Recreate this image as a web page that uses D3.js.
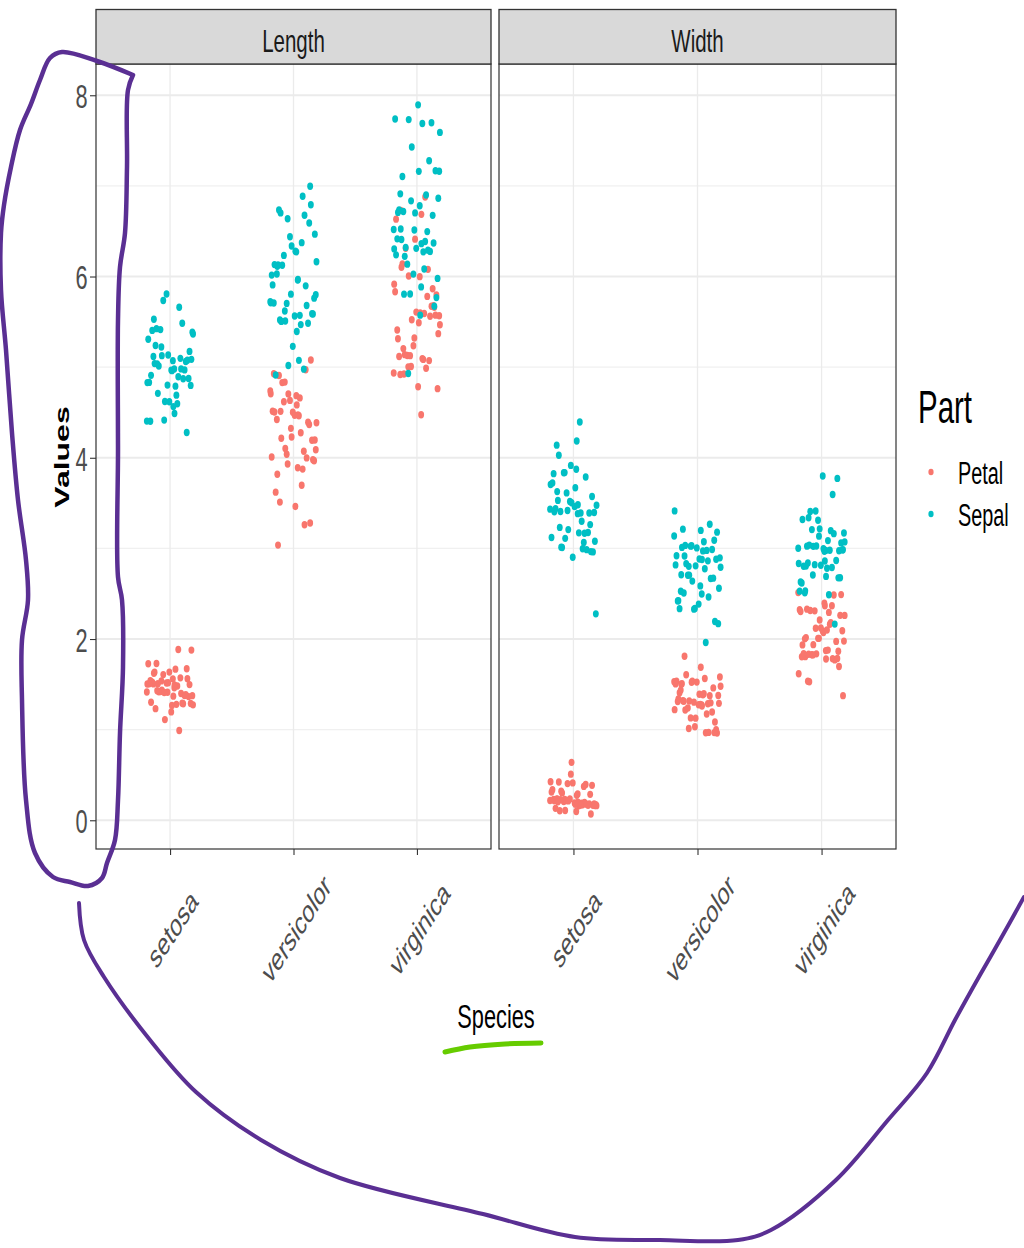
<!DOCTYPE html>
<html>
<head>
<meta charset="utf-8">
<script src="https://cdn.jsdelivr.net/npm/d3@7"></script>
<style>
  body { margin: 0; background: #ffffff; }
  text { font-family: "Liberation Sans", Arial, sans-serif; }
</style>
</head>
<body>
<svg id="chart" width="1024" height="1248"></svg>
<script>
// ---------------- data (iris) ----------------
const species = ["setosa", "versicolor", "virginica"];
const measures = ["Length", "Width"];
const parts = ["Petal", "Sepal"];
const yTicks = [0, 2, 4, 6, 8];
const yMinorTicks = [1, 3, 5, 7];

const sepalLength = [
  5.1,4.9,4.7,4.6,5.0,5.4,4.6,5.0,4.4,4.9,5.4,4.8,4.8,4.3,5.8,5.7,5.4,5.1,5.7,5.1,5.4,5.1,4.6,5.1,4.8,
  5.0,5.0,5.2,5.2,4.7,4.8,5.4,5.2,5.5,4.9,5.0,5.5,4.9,4.4,5.1,5.0,4.5,4.4,5.0,5.1,4.8,5.1,4.6,5.3,5.0,
  7.0,6.4,6.9,5.5,6.5,5.7,6.3,4.9,6.6,5.2,5.0,5.9,6.0,6.1,5.6,6.7,5.6,5.8,6.2,5.6,5.9,6.1,6.3,6.1,6.4,
  6.6,6.8,6.7,6.0,5.7,5.5,5.5,5.8,6.0,5.4,6.0,6.7,6.3,5.6,5.5,5.5,6.1,5.8,5.0,5.6,5.7,5.7,6.2,5.1,5.7,
  6.3,5.8,7.1,6.3,6.5,7.6,4.9,7.3,6.7,7.2,6.5,6.4,6.8,5.7,5.8,6.4,6.5,7.7,7.7,6.0,6.9,5.6,7.7,6.3,6.7,
  7.2,6.2,6.1,6.4,7.2,7.4,7.9,6.4,6.3,6.1,7.7,6.3,6.4,6.0,6.9,6.7,6.9,5.8,6.8,6.7,6.7,6.3,6.5,6.2,5.9
];
const sepalWidth = [
  3.5,3.0,3.2,3.1,3.6,3.9,3.4,3.4,2.9,3.1,3.7,3.4,3.0,3.0,4.0,4.4,3.9,3.5,3.8,3.8,3.4,3.7,3.6,3.3,3.4,
  3.0,3.4,3.5,3.4,3.2,3.1,3.4,4.1,4.2,3.1,3.2,3.5,3.6,3.0,3.4,3.5,2.3,3.2,3.5,3.8,3.0,3.8,3.2,3.7,3.3,
  3.2,3.2,3.1,2.3,2.8,2.8,3.3,2.4,2.9,2.7,2.0,3.0,2.2,2.9,2.9,3.1,3.0,2.7,2.2,2.5,3.2,2.8,2.5,2.8,2.9,
  3.0,2.8,3.0,2.9,2.6,2.4,2.4,2.7,2.7,3.0,3.4,3.1,2.3,3.0,2.5,2.6,3.0,2.6,2.3,2.7,3.0,2.9,2.9,2.5,2.8,
  3.3,2.7,3.0,2.9,3.0,3.0,2.5,2.9,2.5,3.6,3.2,2.7,3.0,2.5,2.8,3.2,3.0,3.8,2.6,2.2,3.2,2.8,2.8,2.7,3.3,
  3.2,2.8,3.0,2.8,3.0,2.8,3.8,2.8,2.8,2.6,3.0,3.4,3.1,3.0,3.1,3.1,3.1,2.7,3.2,3.3,3.0,2.5,3.0,3.4,3.0
];
const petalLength = [
  1.4,1.4,1.3,1.5,1.4,1.7,1.4,1.5,1.4,1.5,1.5,1.6,1.4,1.1,1.2,1.5,1.3,1.4,1.7,1.5,1.7,1.5,1.0,1.7,1.9,
  1.6,1.6,1.5,1.4,1.6,1.6,1.5,1.5,1.4,1.5,1.2,1.3,1.4,1.3,1.5,1.3,1.3,1.3,1.6,1.9,1.4,1.6,1.4,1.5,1.4,
  4.7,4.5,4.9,4.0,4.6,4.5,4.7,3.3,4.6,3.9,3.5,4.2,4.0,4.7,3.6,4.4,4.5,4.1,4.5,3.9,4.8,4.0,4.9,4.7,4.3,
  4.4,4.8,5.0,4.5,3.5,3.8,3.7,3.9,5.1,4.5,4.5,4.7,4.4,4.1,4.0,4.4,4.6,4.0,3.3,4.2,4.2,4.2,4.3,3.0,4.1,
  6.0,5.1,5.9,5.6,5.8,6.6,4.5,6.3,5.8,6.1,5.1,5.3,5.5,5.0,5.1,5.3,5.5,6.7,6.9,5.0,5.7,4.9,6.7,4.9,5.7,
  6.0,4.8,4.9,5.6,5.8,6.1,6.4,5.6,5.1,5.6,6.1,5.6,5.5,4.8,5.4,5.6,5.1,5.1,5.9,5.7,5.2,5.0,5.2,5.4,5.1
];
const petalWidth = [
  0.2,0.2,0.2,0.2,0.2,0.4,0.3,0.2,0.2,0.1,0.2,0.2,0.1,0.1,0.2,0.4,0.4,0.3,0.3,0.3,0.2,0.4,0.2,0.5,0.2,
  0.2,0.4,0.2,0.2,0.2,0.2,0.4,0.1,0.2,0.2,0.2,0.2,0.1,0.2,0.2,0.3,0.3,0.2,0.6,0.4,0.3,0.2,0.2,0.2,0.2,
  1.4,1.5,1.5,1.3,1.5,1.3,1.6,1.0,1.3,1.4,1.0,1.5,1.0,1.4,1.3,1.4,1.5,1.0,1.5,1.1,1.8,1.3,1.5,1.2,1.3,
  1.4,1.4,1.7,1.5,1.0,1.1,1.0,1.2,1.6,1.5,1.6,1.5,1.3,1.3,1.3,1.2,1.4,1.2,1.0,1.3,1.2,1.3,1.3,1.1,1.3,
  2.5,1.9,2.1,1.8,2.2,2.1,1.7,1.8,1.8,2.5,2.0,1.9,2.1,2.0,2.4,2.3,1.8,2.2,2.3,1.5,2.3,2.0,2.0,1.8,2.1,
  1.8,1.8,1.8,2.1,1.6,1.9,2.0,2.2,1.5,1.4,2.3,2.4,1.8,1.8,2.1,2.4,2.3,1.9,2.3,2.5,2.3,1.9,2.0,2.3,1.8
];
// horizontal jitter offsets (fraction of the jitter width), as drawn by geom_jitter
const jitter = [
  0.62,-0.35,0.88,-0.71,0.14,-0.93,0.47,-0.08,0.79,-0.52,0.31,-0.66,0.95,-0.22,0.05,-0.84,0.56,-0.41,0.23,-0.97,
  0.71,-0.15,0.39,-0.58,0.91,-0.29,0.12,-0.76,0.67,-0.03,0.44,-0.89,0.18,-0.48,0.83,-0.62,0.27,-0.11,0.98,-0.37,
  0.52,-0.81,0.08,-0.69,0.35,-0.25,0.74,-0.55,0.19,-0.99
];
const partColors = ["#F8766D", "#00BFC4"];

// hand-drawn annotations (overlay strokes on the screenshot)
const loopStroke = [
  [133,75],[128,90],[127,167],[125,233],[120,267],[118,320],[118,450],[118,577],[122,600],[123,667],
  [120,733],[118,800],[115,840],[107,863],[102,878],[88,886],[70,882],[53,877],[35,853],[26,800],
  [22,700],[22,640],[28,600],[26,560],[18,500],[12,433],[6,350],[1,290],[1,233],[4,205],[11,167],
  [20,130],[31,104],[40,80],[50,58],[62,52],[97,61],[133,75]
];
const arcStroke = [
  [79,903],[84,940],[104,977],[150,1040],[196,1092],[261,1140],[340,1178],[483,1214],[575,1237],
  [660,1240],[738,1240],[771,1230],[836,1180],[888,1120],[927,1073],[955,1020],[980,975],[1000,940],[1024,897]
];
const underlineStroke = [[445,1052],[470,1047],[505,1044],[541,1043]];

// ---------------- layout ----------------
const SQ = 0.64; // horizontal squeeze of the original rendering
const svg = d3.select("#chart");
const panelTop = 64, panelBottom = 849, stripTop = 9.5;
const panels = [
  { measure: "Length", x0: 96, x1: 491 },
  { measure: "Width",  x0: 499, x1: 896 }
];
const y = d3.scaleLinear().domain([-0.317, 8.345]).range([panelBottom, panelTop]);
const valuesOf = {
  SepalLength: sepalLength, SepalWidth: sepalWidth,
  PetalLength: petalLength, PetalWidth: petalWidth
};

function sqText(g, x, yy, txt, opts) {
  const rot = opts.rotate ? ` rotate(${opts.rotate})` : "";
  return g.append("text")
    .attr("transform", `translate(${x},${yy}) scale(${SQ},1)${rot}`)
    .attr("text-anchor", opts.anchor || "start")
    .attr("dominant-baseline", opts.baseline || "auto")
    .attr("font-size", opts.size)
    .attr("font-weight", opts.weight || "normal")
    .attr("fill", opts.fill || "#000")
    .text(txt);
}

panels.forEach((p, pi) => {
  const g = svg.append("g");
  const x = d3.scalePoint().domain(species).range([p.x0, p.x1]).padding(0.6);

  g.append("rect").attr("x", p.x0).attr("y", panelTop)
    .attr("width", p.x1 - p.x0).attr("height", panelBottom - panelTop).attr("fill", "#fff");
  g.selectAll(".ymin").data(yMinorTicks).join("line")
    .attr("x1", p.x0).attr("x2", p.x1)
    .attr("y1", d => y(d)).attr("y2", d => y(d))
    .attr("stroke", "#f0f0f0").attr("stroke-width", 1.2);
  g.selectAll(".ymaj").data(yTicks).join("line")
    .attr("x1", p.x0).attr("x2", p.x1)
    .attr("y1", d => y(d)).attr("y2", d => y(d))
    .attr("stroke", "#ebebeb").attr("stroke-width", 1.8);
  g.selectAll(".xmaj").data(species).join("line")
    .attr("x1", d => x(d)).attr("x2", d => x(d))
    .attr("y1", panelTop).attr("y2", panelBottom)
    .attr("stroke", "#ebebeb").attr("stroke-width", 1.3);

  const step = x.step();
  parts.forEach((part, ki) => {
    const vals = valuesOf[part + p.measure];
    const gi = pi * 2 + ki;
    const pts = vals.map((v, r) => ({
      v, sp: species[Math.floor(r / 50)],
      j: jitter[(r % 50 + 7 * gi + 13 * Math.floor(r / 50)) % 50],
      jy: jitter[(r % 50 + 23 + 11 * gi + 3 * Math.floor(r / 50)) % 50]
    }));
    g.selectAll(".pt" + gi).data(pts).join("ellipse")
      .attr("cx", d => x(d.sp) + d.j * 0.19 * step)
      .attr("cy", d => y(d.v + d.jy * 0.04))
      .attr("rx", 2.95).attr("ry", 3.7)
      .attr("fill", partColors[ki]);
  });

  g.append("rect").attr("x", p.x0).attr("y", panelTop)
    .attr("width", p.x1 - p.x0).attr("height", panelBottom - panelTop)
    .attr("fill", "none").attr("stroke", "#333").attr("stroke-width", 1.2);
  g.append("rect").attr("x", p.x0).attr("y", stripTop)
    .attr("width", p.x1 - p.x0).attr("height", panelTop - stripTop)
    .attr("fill", "#d9d9d9").attr("stroke", "#333").attr("stroke-width", 1.3);
  sqText(g, (p.x0 + p.x1) / 2, 52, p.measure, { anchor: "middle", size: 32, fill: "#1a1a1a" });

  const xa = g.append("g").attr("transform", `translate(0,${panelBottom})`)
    .call(d3.axisBottom(x).tickSize(6).tickFormat(""));
  xa.select(".domain").remove();
  xa.selectAll(".tick line").attr("stroke", "#333").attr("stroke-width", 1.1);
  species.forEach(s => {
    sqText(g, x(s) + 3, 929, s, { anchor: "middle", baseline: "central", size: 32, fill: "#4d4d4d", rotate: -45 });
  });

  if (pi === 0) {
    const ya = g.append("g").attr("transform", `translate(${p.x0},0)`)
      .call(d3.axisLeft(y).tickValues(yTicks).tickSize(6).tickFormat(""));
    ya.select(".domain").remove();
    ya.selectAll(".tick line").attr("stroke", "#333").attr("stroke-width", 1.1);
    yTicks.forEach(t => {
      sqText(g, 87.5, y(t) + 1, String(t), { anchor: "end", baseline: "central", size: 34, fill: "#4d4d4d" });
    });
  }
});

sqText(svg, 496, 1028, "Species", { anchor: "middle", size: 34 });
sqText(svg, 62, 457, "Values", { anchor: "middle", baseline: "central", size: 32, weight: "bold", rotate: -90 });

sqText(svg, 918, 423, "Part", { anchor: "start", size: 46 });
parts.forEach((part, i) => {
  const ly = 472 + i * 42;
  svg.append("ellipse").attr("cx", 931).attr("cy", ly).attr("rx", 2.6).attr("ry", 3.3).attr("fill", partColors[i]);
  sqText(svg, 958, ly + 1, part, { anchor: "start", baseline: "central", size: 31 });
});

const line = d3.line().curve(d3.curveCatmullRom.alpha(0.5));
svg.append("path").attr("d", line(loopStroke)).attr("fill", "none")
  .attr("stroke", "#5a2f93").attr("stroke-width", 4.5).attr("stroke-linecap", "round").attr("stroke-linejoin", "round");
svg.append("path").attr("d", line(arcStroke)).attr("fill", "none")
  .attr("stroke", "#5a2f93").attr("stroke-width", 4).attr("stroke-linecap", "round").attr("stroke-linejoin", "round");
svg.append("path").attr("d", line(underlineStroke)).attr("fill", "none")
  .attr("stroke", "#66cc00").attr("stroke-width", 5).attr("stroke-linecap", "round");
</script>
</body>
</html>
